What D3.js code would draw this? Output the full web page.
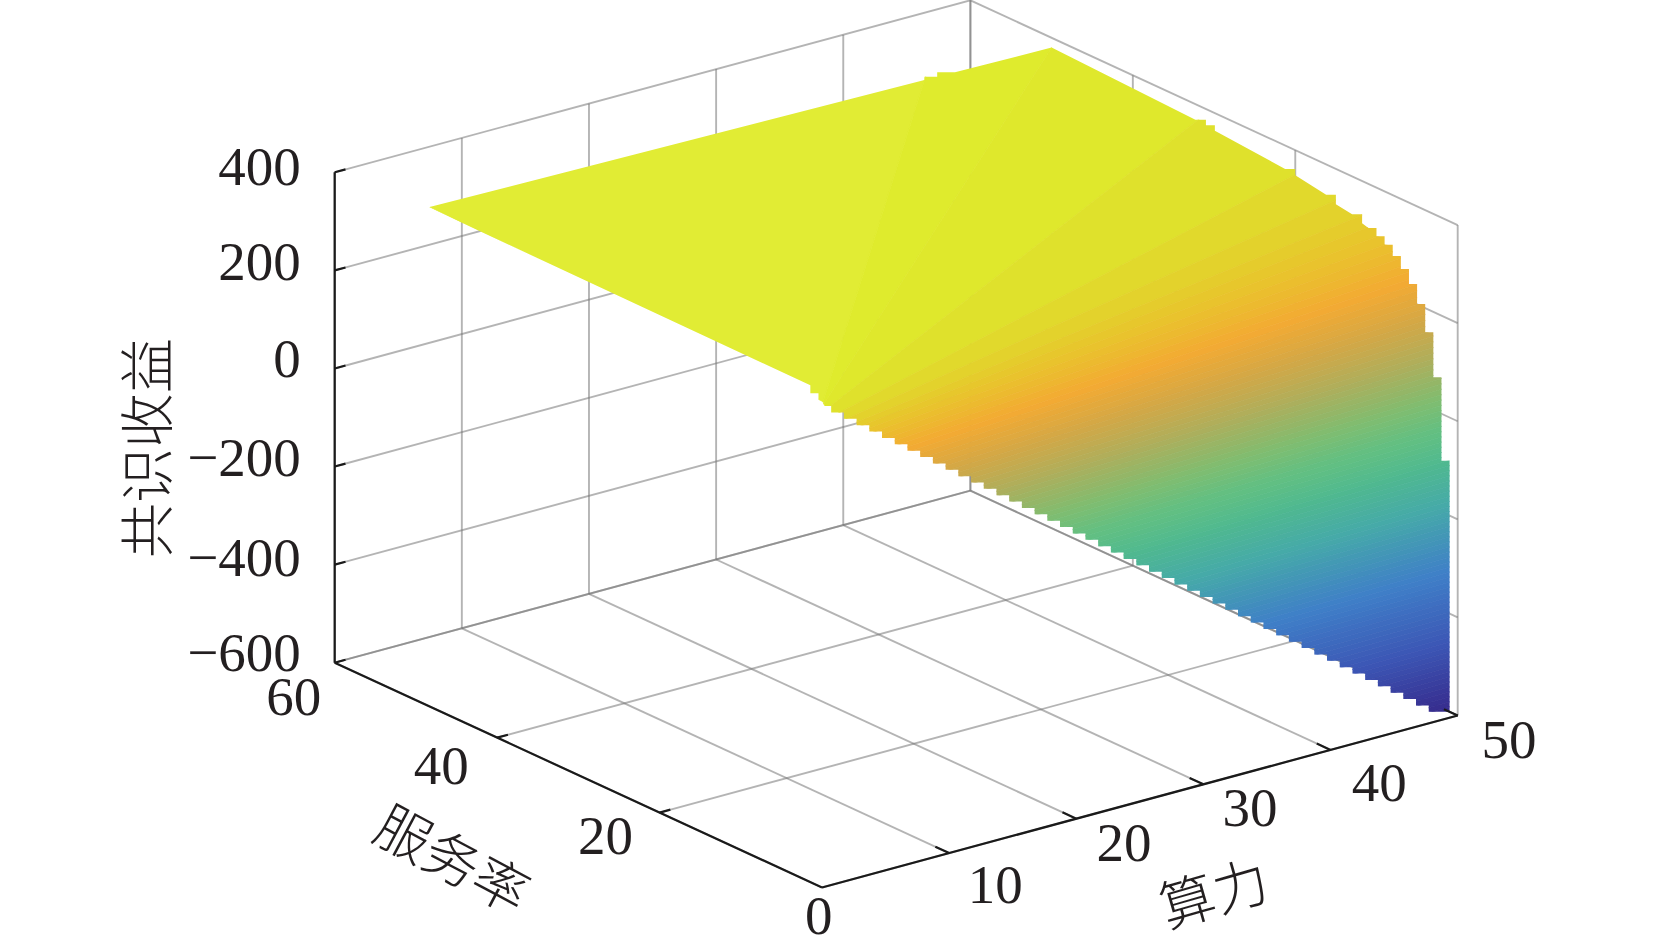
<!DOCTYPE html>
<html lang="zh">
<head>
<meta charset="utf-8">
<title>共识收益</title>
<script src="https://cdn.jsdelivr.net/npm/d3@7"></script>
<style>
	html, body { margin: 0; padding: 0; background: #fff; }
	text { fill: #231f20; }
	.num { font-family: "Liberation Serif", serif; font-size: 55px; }
	.cjk { font-family: "Noto Sans CJK SC", sans-serif; font-size: 55px; font-weight: 300; }
</style>
</head>
<body>
<div id="chart"></div>
<script>
// Axis ticks
var xTicks = [0, 10, 20, 30, 40, 50];
var yTicks = [0, 20, 40, 60];
var zTicks = [-600, -400, -200, 0, 200, 400];

// Iso-income rays of the surface: each runs from a start (x, y) to an end (x, y) at one height
var rayZ = [399.6, 384, 380, 368.8, 350, 334, 320, 310, 300, 290, 280, 270, 260, 250, 240, 230, 220, 210, 200, 190, 180, 170, 160, 150, 140, 130, 120, 110, 100, 90, 80, 70, 60, 50, 40, 30, 20, 10, 0, -10, -20, -30, -40, -50, -60, -70, -80, -90, -100, -110, -120, -130, -140, -150, -160, -170, -180, -190, -200, -210, -220, -230, -240, -250, -260, -270, -280, -290, -300, -310, -320, -330, -340, -350, -360, -370, -380, -390, -400, -410, -420, -430, -440, -450, -460, -470, -480, -490, -500, -510, -520, -530, -540, -550, -560, -570, -580, -590, -600, -660];
var rayStartX = [1, 1, 1, 1.56, 2.5, 3.3, 4, 4.5, 5, 5.5, 6, 6.5, 7, 7.5, 8, 8.5, 9, 9.5, 10, 10.5, 11, 11.5, 12, 12.5, 13, 13.5, 14, 14.5, 15, 15.5, 16, 16.5, 17, 17.5, 18, 18.5, 19, 19.5, 20, 20.5, 21, 21.5, 22, 22.5, 23, 23.5, 24, 24.5, 25, 25.5, 26, 26.5, 27, 27.5, 28, 28.5, 29, 29.5, 30, 30.5, 31, 31.5, 32, 32.5, 33, 33.5, 34, 34.5, 35, 35.5, 36, 36.5, 37, 37.5, 38, 38.5, 39, 39.5, 40, 40.5, 41, 41.5, 42, 42.5, 43, 43.5, 44, 44.5, 45, 45.5, 46, 46.5, 47, 47.5, 48, 48.5, 49, 49.5, 50, 53];
var rayEndY = [50, 50, 50, 32.05, 20, 15.15, 12.5, 11.11, 10, 9.09, 8.33, 7.69, 7.14, 6.67, 6.25, 5.88, 5.56, 5.26, 5, 4.76, 4.55, 4.35, 4.17, 4, 3.85, 3.7, 3.57, 3.45, 3.33, 3.23, 3.13, 3.03, 2.94, 2.86, 2.78, 2.7, 2.63, 2.56, 2.5, 2.44, 2.38, 2.33, 2.27, 2.22, 2.17, 2.13, 2.08, 2.04, 2, 1.96, 1.92, 1.89, 1.85, 1.82, 1.79, 1.75, 1.72, 1.69, 1.67, 1.64, 1.61, 1.59, 1.56, 1.54, 1.52, 1.49, 1.47, 1.45, 1.43, 1.41, 1.39, 1.37, 1.35, 1.33, 1.32, 1.3, 1.28, 1.27, 1.25, 1.23, 1.22, 1.2, 1.19, 1.18, 1.16, 1.15, 1.14, 1.12, 1.11, 1.1, 1.09, 1.08, 1.06, 1.05, 1.04, 1.03, 1.02, 1.01, 1, 1];
// the first two rays leave the x=1 edge and the second ends on the y=50 edge; all the others run y=1 to x=50
var plateauStartY = [50, 1.25];
var plateauEndX = [1, 40];

// Rim of the surface, from the low corner up the x=50 edge, along y=50, then back along y=1.
// rimTurn: 0 straight from the last sample, 1 vertical then horizontal, 2 horizontal then vertical
var rimX = [50, 50, 50, 50, 50, 50, 50, 50, 50, 50, 50, 50, 50, 50, 50, 50, 50, 50, 50, 50, 50, 42.4, 41, 40, 1, 1, 1, 1.36, 2.36, 3.36, 4.36, 5.36, 6.36, 7.36, 8.36, 9.36, 10.36, 11.36, 12.36, 13.36, 14.36, 15.36, 16.36, 17.36, 18.36, 19.36, 20.36, 21.36, 22.36, 23.36, 24.36, 25.36, 26.36, 27.36, 28.36, 29.36, 30.36, 31.36, 32.36, 33.36, 34.36, 35.36, 36.36, 37.36, 38.36, 39.36, 40.36, 41.36, 42.36, 43.36, 44.36, 45.36, 46.36, 47.36, 48.36, 50];
var rimY = [1, 2, 3, 4, 5, 6, 7, 8, 9, 10, 11, 11.77, 13, 15, 16.2, 20, 21.25, 29.9, 31, 32.3, 50, 50, 50, 50, 50, 3, 2, 1, 1, 1, 1, 1, 1, 1, 1, 1, 1, 1, 1, 1, 1, 1, 1, 1, 1, 1, 1, 1, 1, 1, 1, 1, 1, 1, 1, 1, 1, 1, 1, 1, 1, 1, 1, 1, 1, 1, 1, 1, 1, 1, 1, 1, 1, 1, 1, 1];
var rimZ = [-600, -96, 67, 151, 201, 234, 257, 276, 291, 301, 310, 314, 323, 328, 338, 349, 352, 364, 367, 368, 380, 383, 383.7, 384, 398, 394, 385.5, 364.5, 344.5, 324.5, 304.5, 284.5, 264.5, 244.5, 224.5, 204.5, 184.5, 164.5, 144.5, 124.5, 104.5, 84.5, 64.5, 44.5, 24.5, 4.5, -15.5, -35.5, -55.5, -75.5, -95.5, -115.5, -135.5, -155.5, -175.5, -195.5, -215.5, -235.5, -255.5, -275.5, -295.5, -315.5, -335.5, -355.5, -375.5, -395.5, -415.5, -435.5, -455.5, -475.5, -495.5, -515.5, -535.5, -555.5, -575.5, -600];
var rimTurn = [0, 1, 1, 1, 1, 1, 1, 1, 1, 1, 1, 0, 1, 0, 1, 0, 1, 0, 1, 1, 0, 0, 2, 2, 0, 0, 1, 1, 1, 1, 1, 1, 1, 1, 1, 1, 1, 1, 1, 1, 1, 1, 1, 1, 1, 1, 1, 1, 1, 1, 1, 1, 1, 1, 1, 1, 1, 1, 1, 1, 1, 1, 1, 1, 1, 1, 1, 1, 1, 1, 1, 1, 1, 1, 1, 1];

// Colours the surface takes by height
var colorZ = [-600, -460, -320, -186, -100, -40, 20, 100, 170, 238, 300, 340, 365, 380, 395];
var colorHex = ["#362a8c", "#3c57b5", "#3f7fc8", "#46aaa8", "#50b98f", "#62bf82", "#7fbd70", "#aeae5c", "#d3a846", "#f3aa33", "#e8c52c", "#e1d82c", "#dfe42c", "#dfeb2c", "#e2ec36"];

// Axis corners on the page
var cornerFront = [822, 887.5];
var cornerRight = [1457.7, 715.5];
var cornerLeft = [334.7, 662.7];
var zHeight = 490.4;

var svg = d3.select("#chart").append("svg")
	.attr("width", 1654)
	.attr("height", 945)
	.style("display", "block");

// orthographic view: each data axis is a linear scale giving a page offset [dx, dy]
var xScale = d3.scaleLinear().domain([0, 50])
	.range([[0, 0], [cornerRight[0] - cornerFront[0], cornerRight[1] - cornerFront[1]]]);
var yScale = d3.scaleLinear().domain([0, 60])
	.range([[0, 0], [cornerLeft[0] - cornerFront[0], cornerLeft[1] - cornerFront[1]]]);
var zScale = d3.scaleLinear().domain([-600, 400]).range([0, -zHeight]);
var colorScale = d3.scaleLinear().domain(colorZ).range(colorHex).clamp(true);

function project(x, y, z) {
	var a = xScale(x), b = yScale(y);
	return [cornerFront[0] + a[0] + b[0], cornerFront[1] + a[1] + b[1] + zScale(z)];
}

var line = d3.line();

function drawLines(group, segments, cls) {
	group.selectAll("path." + cls)
		.data(segments)
		.enter().append("path")
		.attr("class", cls)
		.attr("d", function(d) { return line([project.apply(null, d[0]), project.apply(null, d[1])]); })
		.attr("fill", "none");
}

// Grid on the two walls and the floor
var gridSegments = [];
xTicks.forEach(function(x) {
	gridSegments.push([[x, 60, -600], [x, 60, 400]]);
	gridSegments.push([[x, 0, -600], [x, 60, -600]]);
});
yTicks.forEach(function(y) {
	gridSegments.push([[50, y, -600], [50, y, 400]]);
	gridSegments.push([[0, y, -600], [50, y, -600]]);
});
zTicks.forEach(function(z) {
	gridSegments.push([[0, 60, z], [50, 60, z]]);
	gridSegments.push([[50, 60, z], [50, 0, z]]);
});
var grid = svg.append("g").attr("stroke", "#777").attr("stroke-opacity", 0.55).attr("stroke-width", 1.9);
drawLines(grid, gridSegments, "grid");

// Rim path with its stair steps
var rimPoints = [];
rimX.forEach(function(x, i) {
	var p = project(x, rimY[i], rimZ[i]);
	if (i > 0 && rimTurn[i] == 1) {
		rimPoints.push([rimPoints[rimPoints.length - 1][0], p[1]]);
	} else if (i > 0 && rimTurn[i] == 2) {
		rimPoints.push([p[0], rimPoints[rimPoints.length - 1][1]]);
	}
	rimPoints.push(p);
});

svg.append("clipPath").attr("id", "rim")
	.append("path").attr("d", line(rimPoints) + "Z");

// Surface bands between neighbouring rays, run a bit past the rim and cut by the clip
var bands = d3.range(rayZ.length - 1);
function rayEnds(i) {
	var startY = i < plateauStartY.length ? plateauStartY[i] : 1;
	var endX = i < plateauEndX.length ? plateauEndX[i] : rayStartX[i] > 50 ? rayStartX[i] : 50;
	return [project(rayStartX[i] * 0.4, startY * 0.4, rayZ[i]),
		project(endX * 1.08, rayEndY[i] * 1.08, rayZ[i])];
}
svg.append("g").attr("clip-path", "url(#rim)")
	.selectAll("path")
	.data(bands)
	.enter().append("path")
	.attr("d", function(i) {
		var a = rayEnds(i), b = rayEnds(i + 1);
		return line([a[0], a[1], b[1], b[0]]) + "Z";
	})
	.attr("fill", function(i) { return colorScale((rayZ[i] + rayZ[i + 1]) / 2); })
	.attr("stroke", function(i) { return colorScale((rayZ[i] + rayZ[i + 1]) / 2); })
	.attr("stroke-width", 0.7);

// Black axes and ticks
var axisSegments = [
	[[0, 60, -600], [0, 60, 400]],
	[[0, 60, -600], [0, 0, -600]],
	[[0, 0, -600], [50, 0, -600]]
];
zTicks.forEach(function(z) { axisSegments.push([[0, 60, z], [0.85, 60, z]]); });
yTicks.slice(1, 3).forEach(function(y) { axisSegments.push([[0, y, -600], [0.85, y, -600]]); });
xTicks.slice(1).forEach(function(x) { axisSegments.push([[x, 0, -600], [x, 1.7, -600]]); });
var axes = svg.append("g").attr("stroke", "#1a1a1a").attr("stroke-width", 2.2);
drawLines(axes, axisSegments, "axis");

// Tick labels, each nudged to where the picture has it
var zLabelOffset = [[-34, 8], [-34, 11], [-34, 9], [-34, 9], [-34, 10], [-34, 13]];
var yLabelOffset = [[-3.3, 46], [-54, 41], [-56, 46], [-41, 52]];
var xLabelOffset = [null, [46, 50], [47.8, 41.8], [46.7, 41.9], [48.6, 50.6], [51.3, 42]];

function fmt(v) { return v < 0 ? "\u2212" + Math.abs(v) : String(v); }

zTicks.forEach(function(z, i) {
	var p = project(0, 60, z);
	svg.append("text").attr("class", "num").attr("text-anchor", "end")
		.attr("x", p[0] + zLabelOffset[i][0]).attr("y", p[1] + zLabelOffset[i][1]).text(fmt(z));
});
yTicks.forEach(function(y, i) {
	var p = project(0, y, -600);
	svg.append("text").attr("class", "num").attr("text-anchor", "middle")
		.attr("x", p[0] + yLabelOffset[i][0]).attr("y", p[1] + yLabelOffset[i][1]).text(fmt(y));
});
xTicks.slice(1).forEach(function(x, i) {
	var p = project(x, 0, -600);
	svg.append("text").attr("class", "num").attr("text-anchor", "middle")
		.attr("x", p[0] + xLabelOffset[i + 1][0]).attr("y", p[1] + xLabelOffset[i + 1][1]).text(fmt(x));
});

// Axis titles
function title(txt, cx, cy, angle) {
	svg.append("text").attr("class", "cjk").attr("text-anchor", "middle")
		.attr("dominant-baseline", "central")
		.attr("transform", "translate(" + cx + "," + cy + ") rotate(" + angle + ")")
		.text(txt);
}
title("共识收益", 143, 448, -90);
title("服务率", 454, 856, 28);
title("算力", 1213, 890, -16);
</script>
</body>
</html>
